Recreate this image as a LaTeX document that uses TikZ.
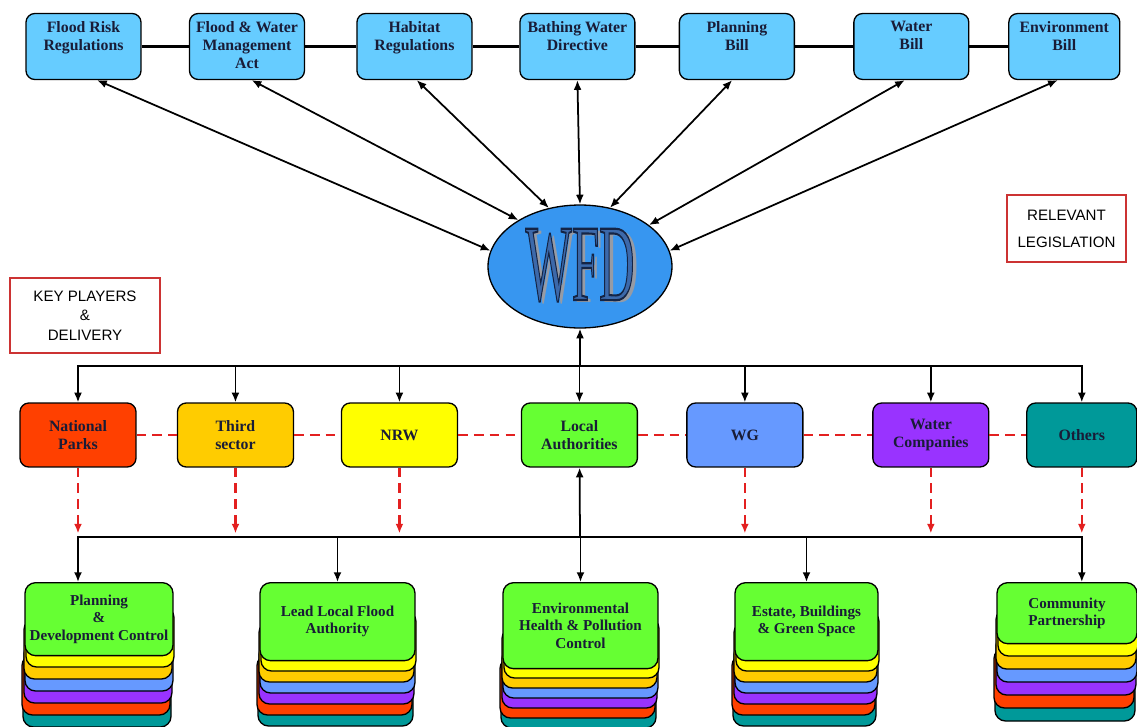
\documentclass[tikz,border=0pt]{standalone}
\usepackage{fontspec}
\setmainfont{Liberation Serif}
\newfontfamily\legendfont{Liberation Sans}
\usepackage{graphicx}
\usetikzlibrary{shapes.geometric,arrows.meta}
\definecolor{lawblue}{RGB}{102,204,255}
\definecolor{wfdblue}{RGB}{55,150,240}
\definecolor{wfdletter}{RGB}{60,105,170}
\definecolor{wfdshade}{RGB}{150,155,165}
\definecolor{npred}{RGB}{255,64,0}
\definecolor{tsgold}{RGB}{255,204,0}
\definecolor{nrwyellow}{RGB}{255,255,0}
\definecolor{lagreen}{RGB}{102,255,51}
\definecolor{wgblue}{RGB}{102,153,255}
\definecolor{wcpurple}{RGB}{153,51,255}
\definecolor{othteal}{RGB}{0,153,153}
\definecolor{legendred}{RGB}{204,51,51}
\definecolor{dashred}{RGB}{227,32,32}
\definecolor{inktext}{RGB}{25,28,55}
\newcommand{\lawtext}[1]{\parbox[c][1cm][t]{2.2cm}{\centering #1}}
% filled letters with a dark stroke round them
\newcommand{\edged}[1]{{\color{wfdletter}\special{pdf:literal direct 2 Tr 1.2 w 0.08 0.14 0.27 RG}#1\special{pdf:literal direct 0 Tr}}}
\begin{document}
\begin{tikzpicture}[x=0.02cm,y=-0.02cm,>={Latex[length=5.5pt,width=4.5pt]},
	lawbox/.style={draw,line width=0.75pt,fill=lawblue,rounded corners=5pt,minimum width=2.3cm,minimum height=1.32cm,inner sep=0pt,text=inktext,font=\bfseries\fontsize{9}{10.2}\selectfont},
	playerbox/.style={draw,line width=0.75pt,rounded corners=5pt,minimum width=2.32cm,minimum height=1.28cm,inner sep=1pt,align=center,text=inktext,font=\bfseries\fontsize{9}{10.2}\selectfont},
	unitbox/.style={draw,line width=0.75pt,fill=lagreen,rounded corners=6pt,anchor=north,inner sep=1pt,align=center,text=inktext,font=\bfseries\fontsize{8.6}{9.8}\selectfont},
	layer/.style={draw,line width=0.75pt,rounded corners=6pt},
	legend/.style={draw=legendred,line width=0.8pt,align=center,font=\legendfont\fontsize{8.6}{11}\selectfont},
	link/.style={line width=1pt},
	bar/.style={line width=1.7pt},
	redlink/.style={draw=dashred,line width=1.4pt,dash pattern=on 5.5pt off 3.5pt}]
	\useasboundingbox (0,0) rectangle (1137,727);
	% legislation row
	\node (frr) [lawbox] at (83.5,46.5) {\lawtext{Flood Risk\\Regulations}};
	\node (fwma) [lawbox,right of=frr,node distance=3.27cm] {\lawtext{Flood \& Water\\Management\\Act}};
	\node (hr) [lawbox,right of=fwma,node distance=3.35cm] {\lawtext{Habitat\\Regulations}};
	\node (bwd) [lawbox,right of=hr,node distance=3.26cm] {\lawtext{Bathing Water\\Directive}};
	\node (pb) [lawbox,right of=bwd,node distance=3.19cm] {\lawtext{Planning\\Bill}};
	\node (wb) [lawbox,right of=pb,node distance=3.49cm] {\lawtext{Water\\Bill}};
	\node (eb) [lawbox,right of=wb,node distance=3.06cm,minimum width=2.22cm] {\lawtext{Environment\\Bill}};
	\draw[bar] (frr) -- (fwma) -- (hr) -- (bwd) -- (pb) -- (wb) -- (eb);
	% WFD
	\node (wfd) [ellipse,draw,line width=0.75pt,fill=wfdblue,minimum width=3.68cm,minimum height=2.46cm,inner sep=0pt] at (580,266.5)
		{\scalebox{0.45}[1]{\fontsize{62}{62}\selectfont\rlap{\raisebox{-1.5pt}{\hspace{5pt}\color{wfdshade}WFD}}\edged{WFD}}};
	\draw (wfd.170) edge[link,<->] (frr.-68);
	\draw (wfd.143) edge[link,<->] (fwma.-82);
	\draw (wfd.118) edge[link,<->] (hr.-86);
	\draw (wfd.90) edge[link,<->] (bwd.-90);
	\draw (wfd.63) edge[link,<->] (pb.-98);
	\draw (wfd.31) edge[link,<->] (wb.-101);
	\draw (wfd.10) edge[link,<->] (eb.-101);
	% legends
	\node (kpd) [legend,minimum width=3cm,minimum height=1.5cm] at (85,315.5) {KEY PLAYERS\\\&\\DELIVERY};
	\node (rl) [legend,minimum width=2.38cm,minimum height=1.34cm,font=\legendfont\fontsize{8.6}{15.3}\selectfont] at (1066.5,228.5) {RELEVANT\\LEGISLATION};
	% key players
	\node (np) [playerbox,fill=npred] at (78,435) {National\\Parks};
	\node (ts) [playerbox,fill=tsgold,right of=np,node distance=3.15cm] {Third\\sector};
	\node (nrw) [playerbox,fill=nrwyellow,right of=ts,node distance=3.28cm] {NRW};
	\node (la) [playerbox,fill=lagreen,right of=nrw,node distance=3.6cm] {Local\\Authorities};
	\node (wg) [playerbox,fill=wgblue,right of=la,node distance=3.31cm] {WG};
	\node (wc) [playerbox,fill=wcpurple,right of=wg,node distance=3.72cm] {Water\\Companies};
	\node (oth) [playerbox,fill=othteal,minimum width=2.2cm,right of=wc,node distance=3.02cm] {Others};
	\coordinate (bus1) at (580,366);
	\coordinate (bus2) at (580,537);
	\draw[link,->] (bus1) -- (wfd);
	\foreach \n in {np,ts,nrw,la,wg,wc,oth}
		\draw[link,->] (bus1) -| (\n);
	\draw[redlink] (np) -- (ts) -- (nrw) -- (la) -- (wg) -- (wc) -- (oth);
	\foreach \n in {np,ts,nrw,wg,wc,oth}
		\draw[redlink,->,shorten >=2pt] (\n) -- (\n |- bus2);
	\draw[link,->] (bus2) -- (la);
	% delivery stacks
	\foreach \xa/\xb/\yb/\st in {25/173/655/12,260/415/660/11,503/658/668/10,735/878/660/11,997/1137/643/13}
		\foreach \c/\k/\j in {othteal/6/-2,npred/5/-3,wcpurple/4/-1,wgblue/3/0,tsgold/2/-1,nrwyellow/1/1}
			\draw[layer,fill=\c] (\xa+\j,\yb+\k*\st-60) rectangle (\xb+\j,\yb+\k*\st);
	\node (pdc) [unitbox,minimum width=2.96cm,minimum height=1.46cm] at (99,582) {Planning\\\&\\Development Control};
	\node (llfa) [unitbox,minimum width=3.1cm,minimum height=1.56cm] at (337.5,582) {Lead Local Flood\\Authority};
	\node (ehp) [unitbox,minimum width=3.1cm,minimum height=1.72cm] at (580.5,582) {Environmental\\Health \& Pollution\\Control};
	\node (ebg) [unitbox,minimum width=2.86cm,minimum height=1.56cm] at (806.5,582) {Estate, Buildings\\\& Green Space};
	\node (cp) [unitbox,minimum width=2.8cm,minimum height=1.22cm] at (1067,582) {Community\\Partnership};
	\foreach \u/\c in {pdc/np,llfa/llfa,ehp/ehp,ebg/ebg,cp/oth}
		\draw[link,->] (bus2) -| (\c |- \u.north);
\end{tikzpicture}
\end{document}
